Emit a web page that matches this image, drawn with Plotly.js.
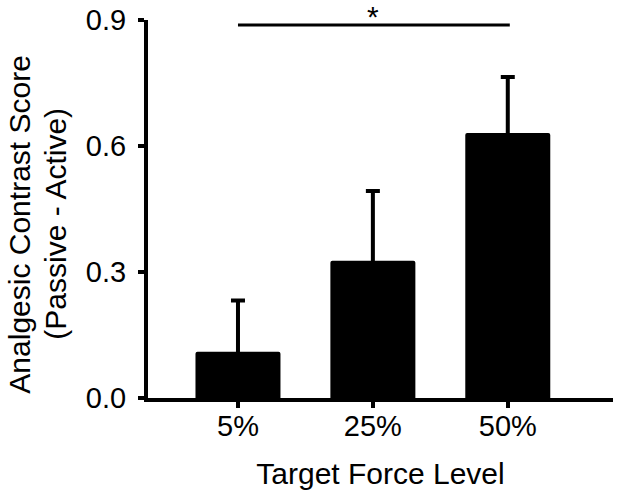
<!DOCTYPE html>
<html>
<head>
<meta charset="utf-8">
<script src="https://cdn.plot.ly/plotly-3.0.1.min.js"></script>
<style>html,body{margin:0;padding:0;background:#fff;}#chart{width:622px;height:498px;}</style>
</head>
<body>
<div id="chart"></div>
<script>
const categories = ["5%", "25%", "50%"];
const means = [0.110, 0.327, 0.631];
const errUpper = [0.122, 0.166, 0.133];
const yTicks = [0.0, 0.3, 0.6, 0.9];
const yTickLabels = ["0.0", "0.3", "0.6", "0.9"];
const xTitle = "Target Force Level";
const yTitleLines = ["Analgesic Contrast Score", "(Passive - Active)"];
const sigFrom = 0, sigTo = 2, sigLevel = 0.888, sigLabel = "*";

const FONT = "Liberation Sans, Arial, sans-serif";
const FS = 29;
const FT = 30;
const xIdx = categories.map((c, i) => i);

const trace = {
  type: "bar",
  x: xIdx,
  y: means,
  width: 0.63,
  marker: {color: "#000", line: {width: 0}, cornerradius: 2},
  error_y: {
    type: "data", symmetric: false,
    array: errUpper,
    arrayminus: means,
    color: "#000", thickness: 4, width: 7
  },
  cliponaxis: false,
  hoverinfo: "none"
};

const yTitleX = [-0.2763, -0.1989];

const layout = {
  width: 622, height: 498,
  margin: {l: 148, r: 9, t: 20, b: 100},
  paper_bgcolor: "#fff", plot_bgcolor: "#fff",
  showlegend: false,
  font: {family: FONT, color: "#000", size: FS},
  xaxis: {
    range: [-0.667, 2.78],
    tickmode: "array", tickvals: xIdx, ticktext: categories,
    showgrid: false, zeroline: false,
    showline: true, linecolor: "#000", linewidth: 4,
    ticks: "outside", ticklen: 6, tickwidth: 4, tickcolor: "#000",
    ticklabelstandoff: -7,
    tickfont: {size: FS, family: FONT, color: "#000"},
    title: {text: xTitle, font: {size: FT, family: FONT, color: "#000"}, standoff: 23}
  },
  yaxis: {
    range: [0, 0.9],
    tickmode: "array", tickvals: yTicks, ticktext: yTickLabels,
    showgrid: false, zeroline: false,
    showline: true, linecolor: "#000", linewidth: 4,
    ticks: "outside", ticklen: 6, tickwidth: 4, tickcolor: "#000",
    ticklabelstandoff: 6,
    tickfont: {size: FS, family: FONT, color: "#000"}
  },
  shapes: [{
    type: "line", xref: "x", yref: "y",
    x0: sigFrom, x1: sigTo + 0.015, y0: sigLevel, y1: sigLevel,
    line: {color: "#000", width: 3}
  }],
  annotations: [{
    xref: "x", yref: "y", x: (sigFrom + sigTo) / 2, y: sigLevel,
    yanchor: "bottom", showarrow: false, text: sigLabel,
    font: {size: 30, family: FONT, color: "#000"}, yshift: -10
  }].concat(yTitleLines.map((t, i) => ({
    xref: "paper", yref: "paper", x: yTitleX[i], y: 0.46,
    xanchor: "center", yanchor: "middle", textangle: -90,
    showarrow: false, text: t,
    font: {size: FT, family: FONT, color: "#000"}
  })))
};

Plotly.newPlot("chart", [trace], layout, {staticPlot: true, displayModeBar: false});
</script>
</body>
</html>
